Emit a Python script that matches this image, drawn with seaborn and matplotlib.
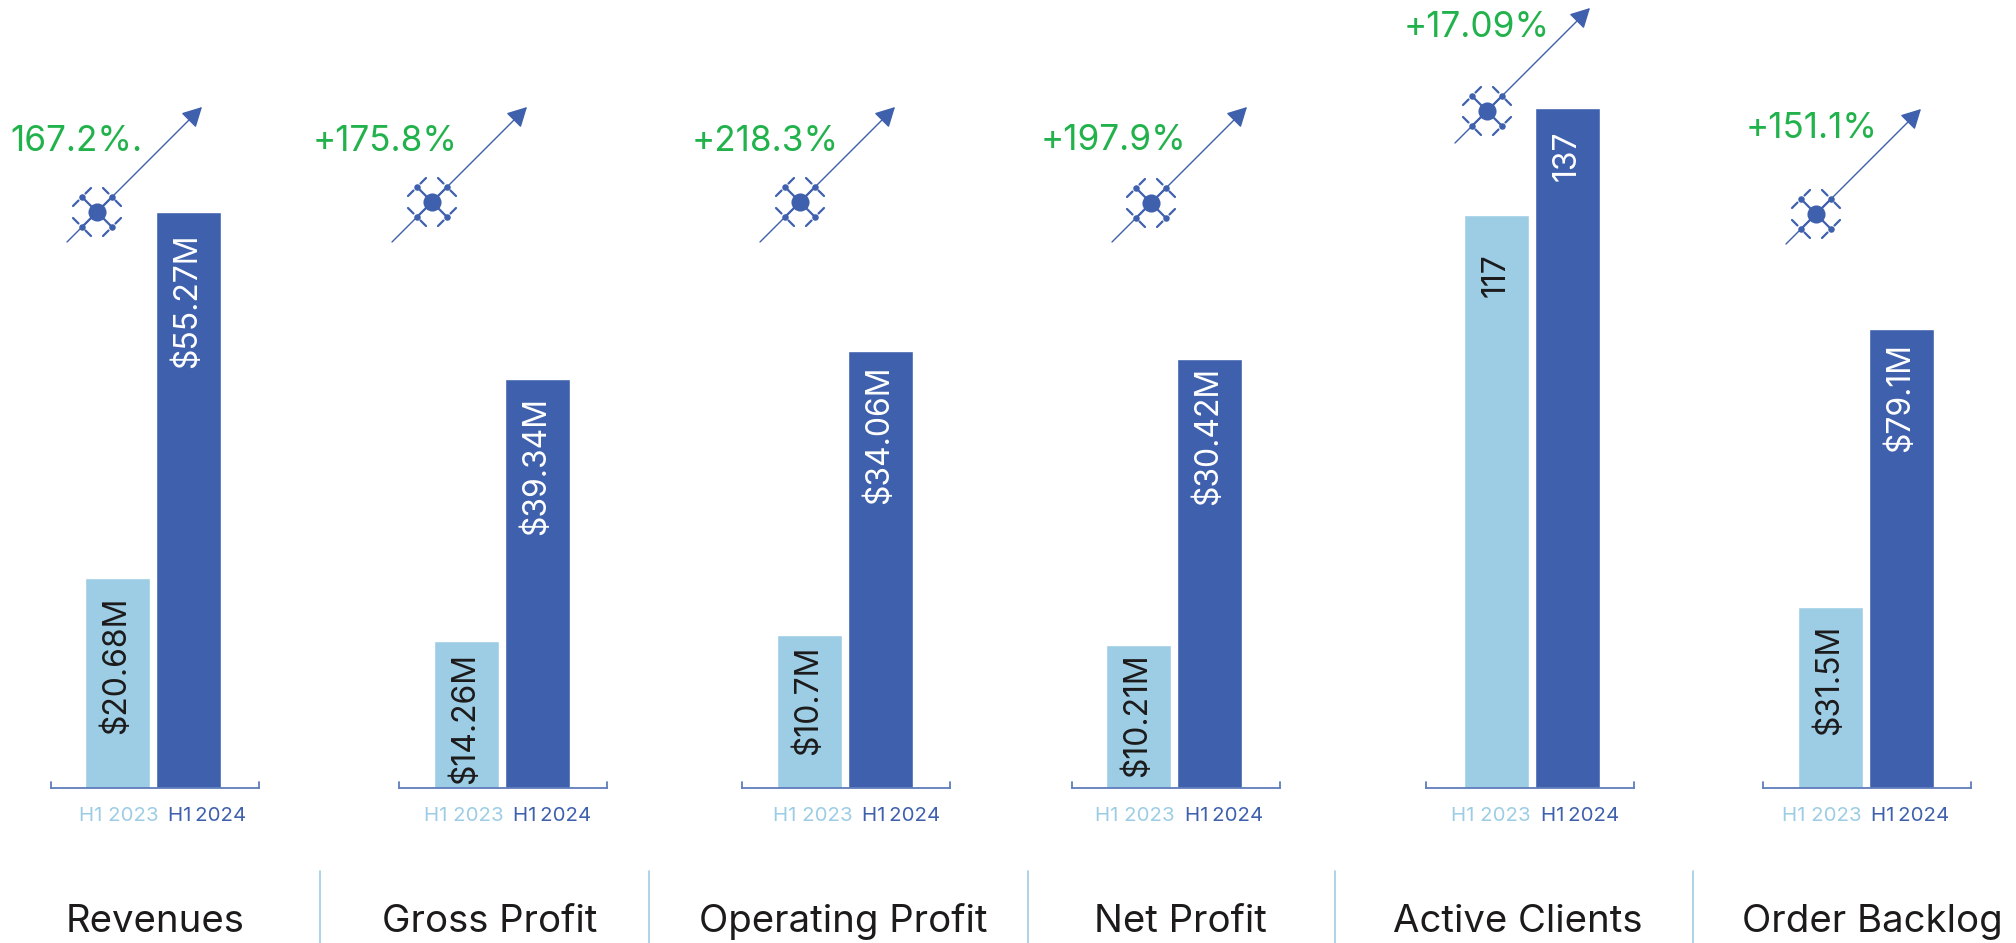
import pandas as pd
import matplotlib
matplotlib.use('Agg')
import matplotlib.pyplot as plt
import seaborn as sns

# ==========================================
# DATA
# ==========================================
METRICS = ['Revenues', 'Gross Profit', 'Operating Profit', 'Net Profit', 'Active Clients', 'Order Backlog']
PERIODS = ['H1 2023', 'H1 2024']
# bar heights, in each panel's own unit
VALUES_2023 = [20.14, 14.17, 11.95, 10.16, 115.4, 31.26]
VALUES_2024 = [55.27, 39.34, 34.06, 30.42, 137, 79.1]
LABELS_2023 = ['$20.68M', '$14.26M', '$10.7M', '$10.21M', '117', '$31.5M']
LABELS_2024 = ['$55.27M', '$39.34M', '$34.06M', '$30.42M', '137', '$79.1M']
GROWTH = ['167.2%.', '+175.8%', '+218.3%', '+197.9%', '+17.09%', '+151.1%']

# ==========================================
# LAYOUT (pixels of the 2016x943 picture)
# ==========================================
WIDTH, HEIGHT = 2016, 943
BASELINE = 788
PANEL_W = 208
BAR_STEP = 71
PANEL_LEFT = [51, 399, 742, 1072, 1426, 1763]
BAR_CENTER = [117, 466, 809, 1138, 1496, 1830]
Y_MAX = [75.55, 75.79, 61.4, 55.86, 158.8, 135.76]
TICK_2023 = [119, 464, 813, 1135, 1491, 1822]
TICK_2024 = [207, 552, 901, 1224, 1580, 1910]
INSET_2023 = [19, 12, 11, 9, 38, 18]
INSET_2024 = [22, 18, 15, 8, 22, 14]
TITLE_X = [155, 490, 843, 1180, 1518, 1872]
DIVIDER_X = [320, 649, 1028, 1335, 1693]
GROWTH_X = [10, 313, 692, 1041, 1404, 1746]
GROWTH_Y = [151, 151, 151, 150, 37, 138]
ARROW_X = [67, 392, 760, 1112, 1455, 1786]
ARROW_Y = [242, 242, 242, 242, 143, 244]
DRONE_OFFSET = [30, 40, 40, 39, 32, 30]

LIGHT = '#9dcde5'
DARK = '#3f60ad'
GREEN = '#22b24c'
INK = '#1c1a1b'
BRACKET = '#5f7cbc'

sns.set_theme(style='white')
plt.rcParams['font.family'] = ['Inter', 'DejaVu Sans']

fig = plt.figure(figsize=(WIDTH / 100, HEIGHT / 100), dpi=100)


def draw_panel(i):
    left = PANEL_LEFT[i] / WIDTH
    bottom = (HEIGHT - BASELINE) / HEIGHT
    ax = fig.add_axes([left, bottom, PANEL_W / WIDTH, BASELINE / HEIGHT])
    ax.patch.set_alpha(0)

    df = pd.DataFrame({'period': PERIODS, 'value': [VALUES_2023[i], VALUES_2024[i]]})
    sns.barplot(data=df, x='period', y='value', hue='period', order=PERIODS, hue_order=PERIODS,
                palette=[LIGHT, DARK], width=65 / BAR_STEP, dodge=False, legend=False,
                saturation=1, ax=ax)

    to_x = lambda px: (px - BAR_CENTER[i]) / BAR_STEP
    ax.set_xlim(to_x(PANEL_LEFT[i]), to_x(PANEL_LEFT[i] + PANEL_W))
    ax.set_ylim(0, Y_MAX[i])
    ax.set_xlabel('')
    ax.set_ylabel('')
    ax.set_yticks([])
    # the 2024 label is set tighter than the 2023 one
    ax.set_xticks([to_x(TICK_2023[i]), to_x(TICK_2024[i])], [PERIODS[0], PERIODS[1].replace(' ', '\u2009')])
    ax.tick_params(axis='x', length=0, pad=14, labelsize=14.7)
    ax.get_xticklabels()[0].set_color(LIGHT)
    ax.get_xticklabels()[1].set_color(DARK)

    # bracket under the bars
    sns.despine(ax=ax, left=True)
    ax.spines['bottom'].set_color(BRACKET)
    ax.spines['bottom'].set_linewidth(1.3)
    for side in (0, 1):
        ax.plot([side, side], [0, 6 / BASELINE], color=BRACKET, lw=1.3,
                transform=ax.transAxes, clip_on=False)

    # value labels inside the bars, rotated and hung from the bar top
    for bars, label, inset, colour in [
            (ax.containers[0], LABELS_2023[i], INSET_2023[i], INK),
            (ax.containers[1], LABELS_2024[i], INSET_2024[i], 'white')]:
        shown = [label if abs(b.get_height()) > 0 else '' for b in bars]
        for t in ax.bar_label(bars, labels=shown, rotation=90, padding=-inset * 0.72,
                              fontsize=23, color=colour):
            t.set_va('top')
            t.set_ha('center')


def draw_drone(ov, cx, cy):
    arm = 15
    ov.scatter([cx], [cy], s=170, color=DARK, zorder=5, linewidths=0)
    for sx in (-1, 1):
        for sy in (-1, 1):
            nx, ny = cx + sx * arm, cy + sy * arm
            ov.plot([cx, nx], [cy, ny], color=DARK, lw=1.6, zorder=4)
            ov.scatter([nx], [ny], s=22, color=DARK, zorder=5, linewidths=0)
            # two propeller blades, across the arm
            for k in (-1, 1):
                ov.plot([nx + k * sx * 3.5, nx + k * sx * 9], [ny - k * sy * 3.5, ny - k * sy * 9],
                        color=DARK, lw=1.6, solid_capstyle='round', zorder=4)


for i in range(len(METRICS)):
    draw_panel(i)

# overlay in picture pixels for the arrows, growth figures and titles
ov = fig.add_axes([0, 0, 1, 1], zorder=10)
ov.set_xlim(0, WIDTH)
ov.set_ylim(HEIGHT, 0)
ov.axis('off')

for i in range(len(METRICS)):
    x0, y0 = ARROW_X[i], ARROW_Y[i]
    ov.annotate('', xy=(x0 + 135, y0 - 135), xytext=(x0, y0),
                arrowprops=dict(arrowstyle='-|>,head_length=0.6,head_width=0.32', color=DARK, lw=1,
                                shrinkA=0, shrinkB=0, mutation_scale=20))
    draw_drone(ov, x0 + DRONE_OFFSET[i], y0 - DRONE_OFFSET[i])
    ov.text(GROWTH_X[i], GROWTH_Y[i], GROWTH[i], color=GREEN, fontsize=25.3, ha='left', va='baseline')
    ov.text(TITLE_X[i], 932, METRICS[i], color=INK, fontsize=27.6, ha='center', va='baseline')

for x in DIVIDER_X:
    ov.plot([x, x], [871, HEIGHT], color=LIGHT, lw=1.2)

fig.savefig('out.png', dpi=100)
plt.close(fig)
